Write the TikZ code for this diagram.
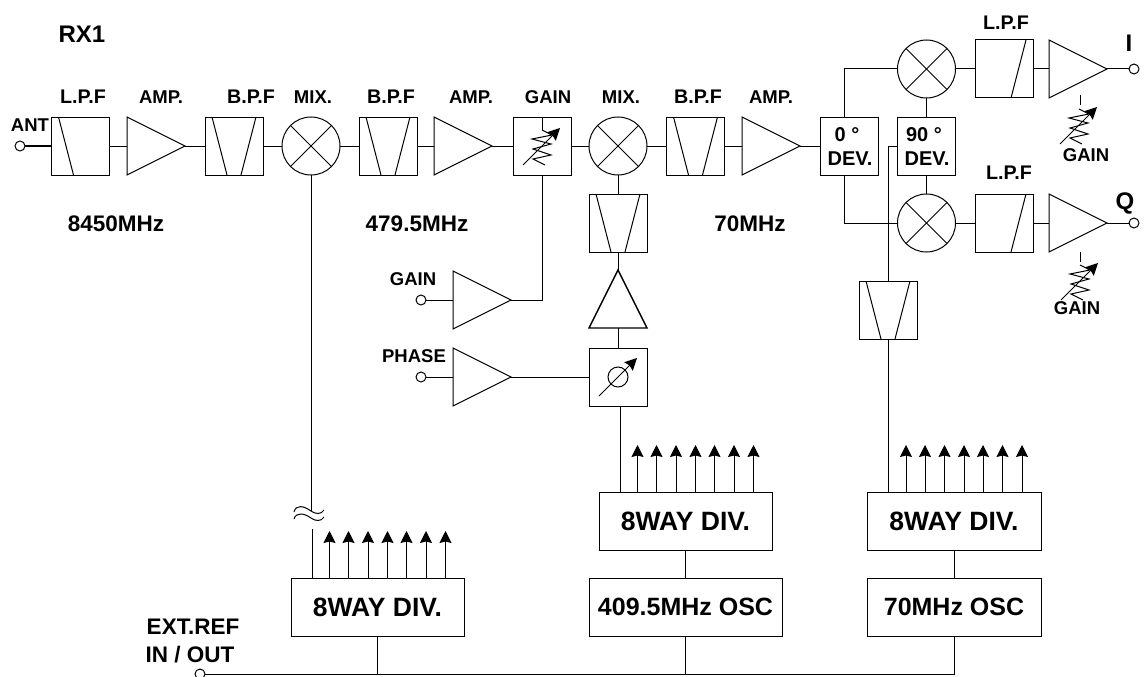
\documentclass[tikz,border=0pt]{standalone}
\usepackage{fontspec}
\setmainfont{Liberation Sans}
\usetikzlibrary{shapes.geometric,arrows.meta}
\tikzset{
  block/.style={draw, rectangle, minimum size=58pt, inner sep=0pt, outer sep=0pt},
  lpfl/.style={block, path picture={\draw ([xshift=7pt]path picture bounding box.north west) -- ([xshift=22pt]path picture bounding box.south west);}},
  lpfr/.style={block, path picture={\draw ([xshift=-7pt]path picture bounding box.north east) -- ([xshift=-22pt]path picture bounding box.south east);}},
  bpf/.style={block, path picture={\draw ([xshift=7pt]path picture bounding box.north west) -- ([xshift=22pt]path picture bounding box.south west);
    \draw ([xshift=-7pt]path picture bounding box.north east) -- ([xshift=-22pt]path picture bounding box.south east);}},
  mixer/.style={draw, circle, minimum size=58pt, inner sep=0pt, outer sep=0pt, path picture={
    \draw (path picture bounding box.north west) -- (path picture bounding box.south east);
    \draw (path picture bounding box.north east) -- (path picture bounding box.south west);}},
  amp/.style={draw, isosceles triangle, isosceles triangle stretches, minimum width=58pt, minimum height=58pt, inner sep=0pt, outer sep=0pt},
  port/.style={draw, circle, minimum size=10pt, inner sep=0pt, outer sep=0pt},
  divbox/.style={draw, rectangle, minimum height=58pt, inner sep=0pt, outer sep=0pt, font=\fontsize{25}{25}\bfseries},
  lbl/.style={inner sep=0pt, font=\fontsize{18.5}{18.5}\bfseries},
  fltlbl/.style={inner sep=0pt, font=\fontsize{19.7}{19.7}\bfseries},
  devlbl/.style={inner sep=0pt, font=\fontsize{20}{20}\bfseries},
  extlbl/.style={inner sep=0pt, font=\fontsize{22.5}{22.5}\bfseries},
  biglbl/.style={inner sep=0pt, font=\fontsize{24}{24}\bfseries},
  freq/.style={inner sep=0pt, font=\fontsize{22.5}{22.5}\bfseries},
  varres/.pic={
    \draw (0,-16) -- (10,-11) -- (-10,-7) -- (9,-2) -- (-9,3) -- (9,9) -- (-9,13) -- (3,19);
    \draw[->] (-19,19) -- (18,-18);
  }
}
\begin{document}
\begin{tikzpicture}[x=1pt, y=-1pt, line width=1pt, >={Stealth[length=12pt,width=12pt,inset=1.5pt]}]
\useasboundingbox (0,0) rectangle (1144,677);
% receive chain
\node[port] (ant) at (20,146) {};
\node[lpfl] (lpfa) at (80.5,146) {};
\node[amp, anchor=lower side] (ampa) at (127,146) {};
\node[bpf] (bpfa) at (234,146) {};
\node[mixer] (mixa) at (311,146) {};
\node[bpf] (bpfb) at (388,146) {};
\node[amp, anchor=lower side] (ampb) at (434,146) {};
\node[block] (gaina) at (542,146) {};
\node[mixer] (mixb) at (618,146) {};
\node[bpf] (bpfc) at (695.5,146) {};
\node[amp, anchor=lower side] (ampc) at (742,146) {};
\node[block] (dev0) at (849,146) {};
\node[block] (dev90) at (926.5,146) {};
\node[mixer] (mixc) at (926.5,69) {};
\node[mixer] (mixd) at (926.5,223) {};
\node[lpfr] (lpfb) at (1004,69) {};
\node[lpfr] (lpfc) at (1004,223) {};
\node[amp, anchor=lower side] (ampd) at (1049,69) {};
\node[amp, anchor=lower side] (ampe) at (1049,223) {};
\node[port] (porti) at (1134,69) {};
\node[port] (portq) at (1134,223) {};
% local oscillator branches
\node[bpf] (bpfd) at (618,223) {};
\node[amp, anchor=apex, shape border rotate=90, line width=1.4pt] (ampg) at (618,270) {};
\node[block] (phase) at (618,377) {};
\node[amp, anchor=lower side] (amph) at (453,300) {};
\node[amp, anchor=lower side] (ampi) at (453,377) {};
\node[port] (portg) at (421,300) {};
\node[port] (portp) at (421,377) {};
\node[bpf] (bpfe) at (888,310) {};
% dividers and oscillators
\node[divbox, minimum width=173pt, font=\fontsize{26.5}{26.5}\bfseries] (diva) at (377.5,607) {8WAY DIV.};
\node[divbox, minimum width=173pt, font=\fontsize{26.5}{26.5}\bfseries] (divb) at (685.5,521) {8WAY DIV.};
\node[divbox, minimum width=174pt, font=\fontsize{26.5}{26.5}\bfseries] (divc) at (954,521) {8WAY DIV.};
\node[divbox, minimum width=193pt] (osca) at (685.5,607) {409.5MHz OSC};
\node[divbox, minimum width=174pt] (oscb) at (954,607) {70MHz OSC};
\node[port] (ext) at (200,674) {};
% labels
\node[biglbl] (rx) at (82,34) {RX1};
\node[fltlbl] (tlpfa) at (83,97) {L.P.F};
\node[lbl] (tampa) at (161,97) {AMP.};
\node[fltlbl] (tbpfa) at (251,97) {B.P.F};
\node[lbl] (tmixa) at (313,97) {MIX.};
\node[fltlbl] (tbpfb) at (391,97) {B.P.F};
\node[lbl] (tampb) at (471,97) {AMP.};
\node[lbl] (tgain) at (548,97) {GAIN};
\node[lbl] (tmixb) at (621,97) {MIX.};
\node[fltlbl] (tbpfc) at (698,97) {B.P.F};
\node[lbl] (tampc) at (771,97) {AMP.};
\node[lbl] (tant) at (30,125) {ANT};
\node[fltlbl] (tlpfb) at (1006,23) {L.P.F};
\node[fltlbl] (tlpfc) at (1009,173) {L.P.F};
\node[freq] (fa) at (116,224) {8450MHz};
\node[freq] (fb) at (417,224) {479.5MHz};
\node[freq] (fc) at (750,224) {70MHz};
\node[lbl] (tgainb) at (413,279) {GAIN};
\node[lbl] (tphase) at (414,356) {PHASE};
\node[lbl] (tgainc) at (1086,155) {GAIN};
\node[lbl] (tgaind) at (1077,308) {GAIN};
\node[devlbl] (tdeva) at (847,135) {0 °};
\node[devlbl] (tdevb) at (850,159) {DEV.};
\node[devlbl] (tdevc) at (924,135) {90 °};
\node[devlbl] (tdevd) at (927,159) {DEV.};
\node[biglbl] (ti) at (1129,43) {I};
\node[biglbl] (tq) at (1125,203) {Q};
\node[extlbl] (text) at (193,627) {EXT.REF};
\node[extlbl] (tin) at (190,655) {IN / OUT};
% symbols inside blocks
\pic at (542,146) {varres};
\pic at (1079,125) {varres};
\pic at (1080,281) {varres};
\node[draw, circle, minimum size=20pt, inner sep=0pt] (phasec) at (618,377) {};
\draw[->] (599,396) -- (637,358);
% connectors
\draw[line width=1.5pt] (ant) -- (lpfa.west);
\draw (lpfa.east) -- (ampa.lower side);
\draw (ampa.apex) -- (bpfa.west);
\draw (bpfa.east) -- (mixa.west);
\draw (mixa.east) -- (bpfb.west);
\draw (bpfb.east) -- (ampb.lower side);
\draw (ampb.apex) -- (gaina.west);
\draw (gaina.east) -- (mixb.west);
\draw (mixb.east) -- (bpfc.west);
\draw (bpfc.east) -- (ampc.lower side);
\draw (ampc.apex) -- (dev0.west);
\draw ([xshift=-5pt]dev0.north) |- (mixc.west);
\draw ([xshift=-5pt]dev0.south) |- (mixd.west);
\draw (dev90.north) -- (mixc.south);
\draw (dev90.south) -- (mixd.north);
\draw (mixc.east) -- (lpfb.west);
\draw (mixd.east) -- (lpfc.west);
\draw (lpfb.east) -- (ampd.lower side);
\draw (lpfc.east) -- (ampe.lower side);
\draw (ampd.apex) -- (porti);
\draw (ampe.apex) -- (portq);
\draw (mixb.south) -- (bpfd.north);
\draw (bpfd.south) -- (ampg.apex);
\draw (ampg.lower side) -- (phase.north);
\draw ([xshift=2.5pt]phase.south) -- ([xshift=-65pt]divb.north);
\draw (portg) -- (amph.lower side);
\draw (portp) -- (ampi.lower side);
\draw (ampi.apex) -- (phase.west);
\draw (amph.apex) -| (gaina.south);
\draw (gaina.north) -- ++(0,13);
\draw (bpfe.north) |- (dev90.west);
\draw (bpfe.south) -- ([xshift=-66pt]divc.north);
\draw (divb.south) -- (osca.north);
\draw (divc.south) -- (oscb.north);
\draw (ext.east) -| (oscb.south);
\draw (osca.south) -- (osca.south |- ext.east);
\draw (diva.south) -- (diva.south |- ext.east);
% gain control stubs
\coordinate (stuba) at (1080,95);
\coordinate (stubb) at (1080,252);
\draw (stuba) -- ++(0,10);
\draw (stubb) -- ++(0,10);
% line with break
\coordinate (breaka) at (311,511);
\draw (mixa.south) -- (breaka);
\draw ([xshift=-65pt]diva.north) -- ++(0,-49);
\draw (294,512) .. controls (296,504) and (304,506) .. (311,511) .. controls (315,514) and (321,515) .. (324,510);
\draw (294,519) .. controls (296,512) and (304,513) .. (311,518) .. controls (315,521) and (321,522) .. (324,517);
% divider outputs
\foreach \dx in {-48,-29,-9.5,10,29,48.5,68} {
  \draw[->] ([xshift=\dx pt]diva.north) -- ++(0,-47);
  \draw[->] ([xshift=\dx pt]divb.north) -- ++(0,-47);
  \draw[->] ([xshift=\dx pt]divc.north) -- ++(0,-47);
}
\end{tikzpicture}
\end{document}
